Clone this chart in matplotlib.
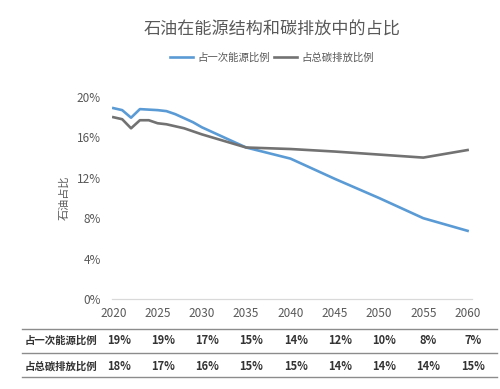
import matplotlib
matplotlib.use('Agg')
import matplotlib.pyplot as plt
from matplotlib.lines import Line2D
from matplotlib.transforms import blended_transform_factory

plt.rcParams['font.family'] = ['Noto Sans CJK SC', 'DejaVu Sans']

# Data (percent)
years = [2020, 2021, 2022, 2023, 2024, 2025, 2026, 2027, 2028, 2029, 2030,
         2035, 2040, 2045, 2050, 2055, 2060]
primary_share = [18.9, 18.7, 17.95, 18.8, 18.75, 18.7, 18.6, 18.3, 17.9, 17.5, 17.0,
                 15.0, 13.9, 11.9, 10.0, 8.0, 6.75]
carbon_share = [18.0, 17.8, 16.9, 17.7, 17.7, 17.4, 17.3, 17.1, 16.9, 16.6, 16.3,
                15.0, 14.85, 14.6, 14.3, 14.0, 14.75]

tick_years = [2020, 2025, 2030, 2035, 2040, 2045, 2050, 2055, 2060]
table_rows = ['占一次能源比例', '占总碳排放比例']
table_primary = ['19%', '19%', '17%', '15%', '14%', '12%', '10%', '8%', '7%']
table_carbon = ['18%', '17%', '16%', '15%', '15%', '14%', '14%', '14%', '15%']

W, H = 500, 389
fig = plt.figure(figsize=(W / 100, H / 100), dpi=100)
ax = fig.add_axes([112 / W, 1 - 299 / H, 360 / W, 202 / H])

blue = '#5B9BD5'
grey = '#727272'
txt = '#595959'

ax.plot(years, primary_share, color=blue, lw=1.9, label=table_rows[0])
ax.plot(years, carbon_share, color=grey, lw=1.9, label=table_rows[1])

ax.set_xlim(2019.85, 2060.5)
ax.set_ylim(0, 20)
ax.set_yticks([0, 4, 8, 12, 16, 20])
ax.set_yticklabels([f'{v}%' for v in [0, 4, 8, 12, 16, 20]])
ax.set_xticks(tick_years)
ax.set_xticklabels([str(y) for y in tick_years])
ax.tick_params(axis='both', length=0, colors=txt, labelsize=8.5)
ax.tick_params(axis='y', pad=8)
ax.tick_params(axis='x', pad=6)
for s in ['top', 'right', 'left']:
    ax.spines[s].set_visible(False)
ax.spines['bottom'].set_color('#d9d9d9')
ax.spines['bottom'].set_linewidth(0.9)

ax.set_ylabel('石油占比', color=txt, fontsize=8)
ax.yaxis.set_label_coords(-0.117, 0.5)

fig.text(272 / W, 1 - 30 / H, '石油在能源结构和碳排放中的占比', ha='center', va='center',
         fontsize=12.3, color=txt)
fig.legend(loc='center', bbox_to_anchor=(272 / W, 1 - 58 / H), ncol=2, frameon=False,
           fontsize=7.5, labelcolor=txt, handlelength=2.2, columnspacing=0.4,
           handletextpad=0.4)

# data table under the chart
tr = blended_transform_factory(ax.transData, fig.transFigure)
for yy in [329, 353, 377]:
    fig.add_artist(Line2D([22 / W, 497 / W], [1 - yy / H, 1 - yy / H],
                          color='#8c8c8c', lw=1.0))
for row_y, label, vals in [(341, table_rows[0], table_primary),
                           (366, table_rows[1], table_carbon)]:
    fig.text(25 / W, 1 - row_y / H, label, ha='left', va='center',
             fontsize=7.5, color='#333333', fontweight='bold')
    for yr, v in zip(tick_years, vals):
        ax.text(yr + 0.6, 1 - row_y / H, v, transform=tr, ha='center', va='center',
                fontsize=8, color='#333333', fontweight='bold', clip_on=False)

fig.savefig('out.png', dpi=100)
